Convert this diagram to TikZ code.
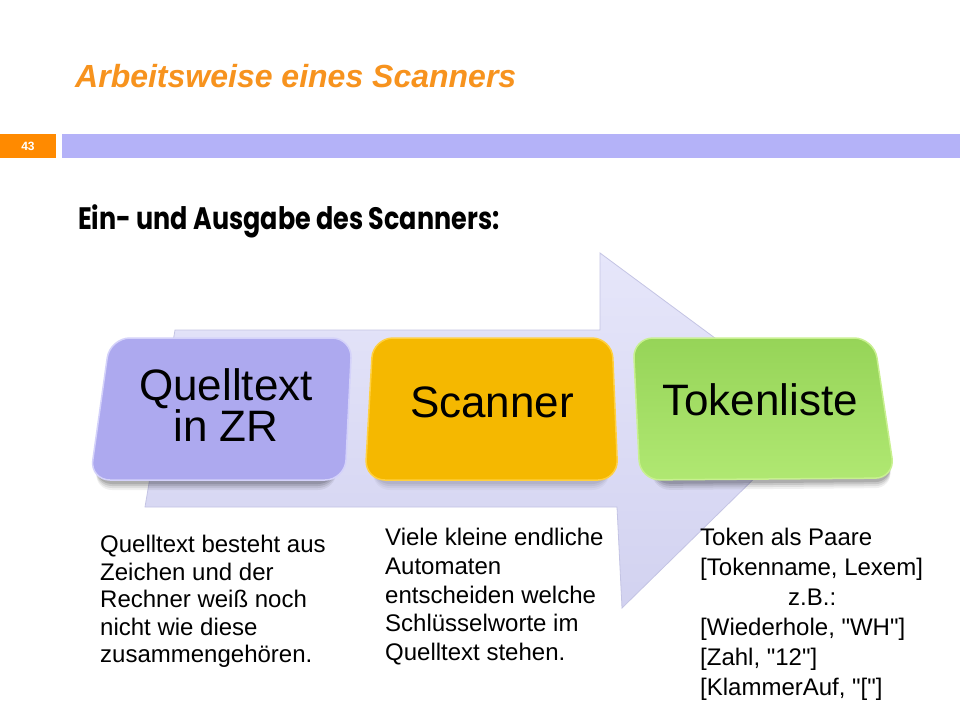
\documentclass[tikz,border=0pt]{standalone}
\usepackage{fontspec}
\setmainfont{Liberation Sans}
\newfontfamily\plainfont{Liberation Sans}
\newfontfamily\headfont{Poppins}
\definecolor{titleorange}{HTML}{F7931E}
\definecolor{numorange}{HTML}{FF8A00}
\definecolor{barpurple}{HTML}{B4B2F8}
\definecolor{arrowtop}{HTML}{E6E6FA}
\definecolor{arrowbot}{HTML}{D2D2F0}
\definecolor{arrowedge}{HTML}{C4C4E4}
\definecolor{boxAfill}{HTML}{ADA9EF}
\definecolor{boxArim}{HTML}{D4D2FA}
\definecolor{boxBfill}{HTML}{F5B800}
\definecolor{boxBrim}{HTML}{FFD040}
\definecolor{boxCtop}{HTML}{96D458}
\definecolor{boxCbot}{HTML}{B0E872}
\definecolor{boxCrim}{HTML}{C8F090}
\tikzset{
  boxtext/.style={font=\fontsize{44}{39}\selectfont, align=center, inner sep=0pt, text=black},
  bodytext/.style={anchor=north west, align=left, inner sep=0pt, text=black},
  shadowshape/.style={fill=black, rounded corners=18pt},
}
\begin{document}
\begin{tikzpicture}[x=1pt,y=-1pt]
\useasboundingbox (0,0) rectangle (960,720);
\fill[white] (0,0) rectangle (960,720);

% title
\node[anchor=base west, inner sep=0pt, text=titleorange,
      font=\fontsize{32}{38}\selectfont\bfseries\itshape] (title) at (75,87) {Arbeitsweise eines Scanners};

% slide number bar
\fill[numorange] (0,134) rectangle (56,158);
\node[text=white, font=\fontsize{12}{14}\selectfont\bfseries, inner sep=0pt] (num) at (28,146) {43};
\fill[barpurple] (62,134) rectangle (960,158);

% heading
\node[anchor=base west, inner sep=0pt, xscale=0.82, font=\headfont\fontsize{31}{36}\selectfont\bfseries] (head) at (78,229) {Ein- und Ausgabe des Scanners:};

% big arrow
\shade[top color=arrowtop, bottom color=arrowbot, draw=arrowedge, line width=0.8pt]
  (175,330) -- (600,330) -- (600,253) -- (819,415) -- (622,608) -- (617,507) -- (145,507) -- cycle;

% soft shadows
\foreach \o/\op in {10/0.06, 8/0.08, 6/0.10, 4/0.12} {
  \fill[shadowshape, opacity=\op] (114,338+\o) -- (340,338+\o) -- (336,480+\o) -- (94,480+\o) -- cycle;
  \fill[shadowshape, opacity=\op*0.5] (380,338+\o) -- (605,338+\o) -- (610,480+\o) -- (372,480+\o) -- cycle;
  \fill[shadowshape, opacity=\op] (648,338+\o) -- (872,338+\o) -- (893,478+\o) -- (652,480+\o) -- cycle;
}

% box 1
\filldraw[fill=boxAfill, draw=boxArim, line width=1.5pt, rounded corners=20pt]
  (110,338) -- (352,338) -- (345,480) -- (90,480) -- cycle;
\node[boxtext] (b1) at (226,405) {Quelltext\\in ZR};

% box 2
\filldraw[fill=boxBfill, draw=boxBrim, line width=1.5pt, rounded corners=20pt]
  (373,338) -- (612,338) -- (618,480) -- (365,480) -- cycle;
\node[boxtext, anchor=base] (b2) at (492,417) {Scanner};

% box 3
\shade[top color=boxCtop, bottom color=boxCbot, draw=boxCrim, line width=1.5pt, rounded corners=20pt]
  (633,338) -- (874,338) -- (895,478) -- (640,480) -- cycle;
\node[boxtext, anchor=base] (b3) at (760,415) {Tokenliste};

% body texts
\node[bodytext, font=\fontsize{24}{27.5}\selectfont] (t1) at (100,535)
  {Quelltext besteht aus\\Zeichen und der\\Rechner weiß noch\\nicht wie diese\\zusammengehören.};
\node[bodytext, font=\fontsize{24}{28.75}\selectfont] (t2) at (385,528)
  {Viele kleine endliche\\Automaten\\entscheiden welche\\Schlüsselworte im\\Quelltext stehen.};
\node[bodytext, font=\plainfont\fontsize{24}{30}\selectfont] (t3) at (700,528)
  {Token als Paare\\{}[Tokenname, Lexem]\\\hspace*{88pt}z.B.:\\{}[Wiederhole, "WH"]\\{}[Zahl, "12"]\\{}[KlammerAuf, "["]};
\end{tikzpicture}
\end{document}
